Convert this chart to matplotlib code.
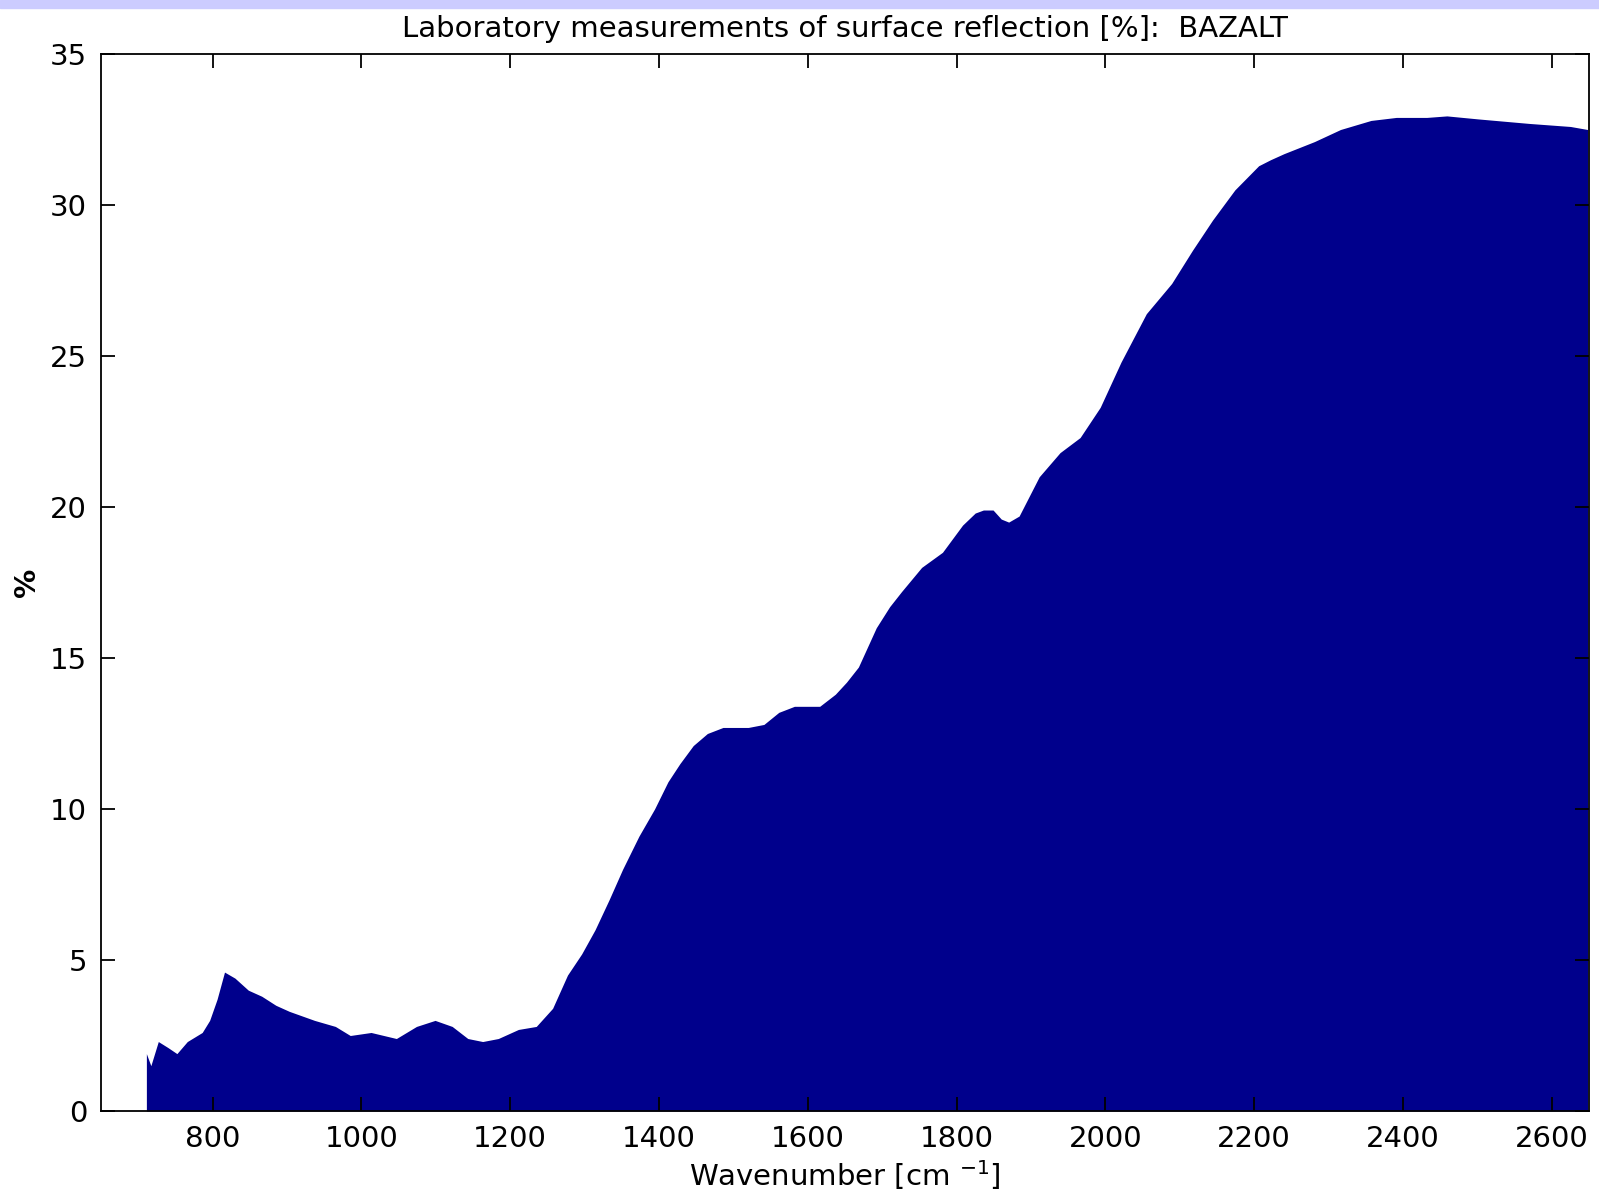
import numpy as np
import matplotlib.pyplot as plt

# wavenumber [cm^-1] and reflection [%]
wavenumber = [711, 717, 727, 740, 752, 766, 786, 796, 806, 816, 830, 848, 866,
              885, 903, 937, 965, 985, 1013, 1047, 1074, 1099, 1122, 1143, 1163,
              1184, 1211, 1235, 1257, 1277, 1296, 1314, 1333, 1351, 1373, 1394,
              1412, 1428, 1446, 1465, 1486, 1520, 1541, 1561, 1582, 1616, 1637,
              1652, 1668, 1692, 1710, 1726, 1753, 1781, 1808, 1825, 1836, 1849,
              1860, 1870, 1884, 1911, 1939, 1966, 1993, 2021, 2055, 2089, 2117,
              2144, 2174, 2190, 2206, 2222, 2240, 2281, 2316, 2357, 2391, 2432,
              2459, 2501, 2570, 2625, 2648]
reflection = [1.9, 1.5, 2.3, 2.1, 1.9, 2.3, 2.6, 3.0, 3.7, 4.6, 4.4, 4.0, 3.8,
              3.5, 3.3, 3.0, 2.8, 2.5, 2.6, 2.4, 2.8, 3.0, 2.8, 2.4, 2.3,
              2.4, 2.7, 2.8, 3.4, 4.5, 5.2, 6.0, 7.0, 8.0, 9.1, 10.0,
              10.9, 11.5, 12.1, 12.5, 12.7, 12.7, 12.8, 13.2, 13.4, 13.4, 13.8,
              14.2, 14.7, 16.0, 16.7, 17.2, 18.0, 18.5, 19.4, 19.8, 19.9, 19.9,
              19.6, 19.5, 19.7, 21.0, 21.8, 22.3, 23.3, 24.8, 26.4, 27.4, 28.5,
              29.5, 30.5, 30.9, 31.3, 31.5, 31.7, 32.1, 32.5, 32.8, 32.9, 32.9,
              32.95, 32.85, 32.7, 32.6, 32.5]
xticks = [800, 1000, 1200, 1400, 1600, 1800, 2000, 2200, 2400, 2600]
yticks = [0, 5, 10, 15, 20, 25, 30, 35]

plt.rcParams['font.family'] = ['DejaVu Sans']

fig = plt.figure(figsize=(15.99, 11.98), dpi=100)
# lavender strip along the top of the screenshot
fig.patches.append(plt.Rectangle((0, 1 - 8/1198), 1, 8/1198, transform=fig.transFigure,
                                 color='#ccccff', zorder=0))
ax = fig.add_axes([101/1599, 87/1198, 1488/1599, 1057/1198])

ax.fill_between(wavenumber, reflection, 0, color='#00008c', linewidth=0)
ax.set_xlim(650, 2650)
ax.set_ylim(0, 35)
ax.set_xticks(xticks)
ax.set_yticks(yticks)
ax.tick_params(direction='in', top=True, right=True, length=10, width=1.3,
               labelsize=21, pad=10)
for s in ax.spines.values():
    s.set_linewidth(1.3)

ax.set_title('Laboratory measurements of surface reflection [%]:  BAZALT',
             fontsize=21, pad=12)
ax.set_xlabel('Wavenumber [cm $^{-1}$]', fontsize=21, labelpad=4)
ax.set_ylabel('%', fontsize=21, fontweight='bold')
ax.yaxis.set_label_coords(-0.04, 0.5)

fig.savefig('out.png', dpi=100)
